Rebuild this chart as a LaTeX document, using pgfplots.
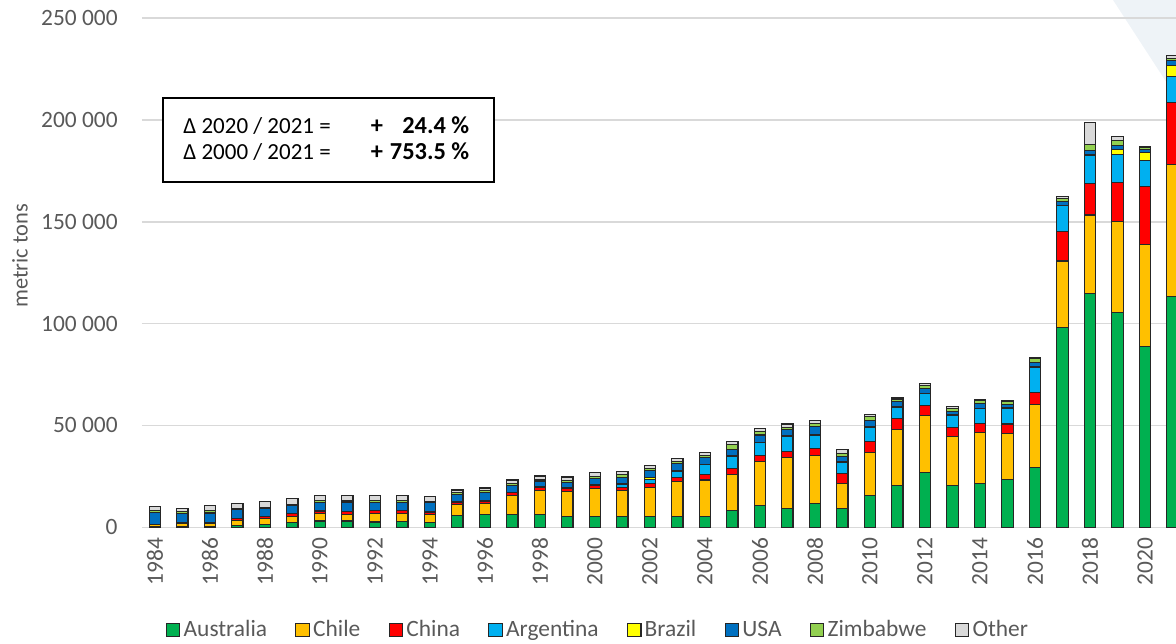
\documentclass[border=0pt]{standalone}
\usepackage{fontspec}
\setmainfont{Carlito}
\usepackage{pgfplots}
\pgfplotsset{compat=1.18}
\usepackage{pgfplotstable}

\definecolor{aus}{HTML}{00B050}
\definecolor{chl}{HTML}{FFC000}
\definecolor{chn}{HTML}{FF0000}
\definecolor{arg}{HTML}{00B0F0}
\definecolor{bra}{HTML}{FFFF00}
\definecolor{usa}{HTML}{0070C0}
\definecolor{zim}{HTML}{92D050}
\definecolor{oth}{HTML}{D9D9D9}
\definecolor{txt}{HTML}{595959}
\definecolor{gridc}{HTML}{D9D9D9}
\definecolor{bgtri}{HTML}{EEF3F7}

\newcommand\tf{\fontsize{11.7}{14}\selectfont}

% lithium mine production, metric tons
\pgfplotstableread{
year aus chl chn arg bra usa zim oth
1984 300 900 0 0 0 6100 1000 1800
1985 200 1900 200 0 0 4600 800 1600
1986 300 1400 700 0 0 4600 1200 2300
1987 1100 2400 800 0 0 4300 500 2800
1988 1500 2900 800 0 0 4100 500 3000
1989 2500 2800 1300 0 0 4100 700 2700
1990 3100 3800 1100 0 0 4300 700 2500
1991 3100 3400 1300 0 0 4400 700 2600
1992 2600 4300 1300 0 0 4100 800 2300
1993 2800 4100 1300 0 0 4100 800 2400
1994 2500 3900 1100 0 0 4600 600 2400
1995 5600 5400 1100 0 300 3600 1000 1300
1996 6100 5700 1000 0 200 3900 1000 1400
1997 6100 9500 1500 0 200 3100 1300 1500
1998 6400 11600 1600 0 200 2600 800 2000
1999 5400 12100 1600 0 200 2600 1100 1700
2000 5100 14100 1500 0 200 3000 1100 1900
2001 5200 12800 1600 1500 200 3200 1300 1500
2002 5400 14200 2000 2000 800 3300 1100 1500
2003 5400 16900 2300 2900 300 3600 1100 1100
2004 5400 17800 2600 4900 300 3100 1300 1300
2005 8200 17800 2800 6200 300 3100 2300 1400
2006 10500 21900 2900 6200 300 3500 1600 1600
2007 9200 25200 2800 7400 300 3000 1300 1500
2008 11500 23900 3400 6500 300 3800 1600 1400
2009 9300 12000 5300 5200 300 2700 1600 1600
2010 15700 21000 5400 7100 300 3000 1900 900
2011 20500 27400 5600 5500 300 2500 1200 500
2012 26700 28400 4900 5600 300 2300 1500 700
2013 20500 24100 4600 5700 300 1700 1500 800
2014 21600 25000 4200 7300 300 2300 1500 400
2015 23600 22300 4800 7700 300 1800 1300 500
2016 29200 31200 5900 12300 300 2100 1700 800
2017 98100 32600 14600 12500 300 1700 1600 1000
2018 114600 38700 15600 13500 600 1800 3300 10700
2019 105300 44900 19000 13700 2700 1700 2400 2200
2020 88700 49900 28700 12800 3900 1600 700 500
2021 113200 65100 30400 12500 5400 2500 1200 1400
}\lith

\pgfplotsset{
  mybar/.style={fill=#1, draw=black!85, line width=0.55pt,
    legend image code/.code={\draw[##1] (0pt,-3.4pt) rectangle (6.8pt,3.4pt);}},
}

\begin{document}
\begin{tikzpicture}
% pale decoration in the top right corner
\fill[bgtri] (485.5pt,263.65pt) -- (517pt,263.65pt) -- (517pt,215.15pt) -- cycle;
\begin{axis}[
  scale only axis,
  width=517pt, height=254.65pt,
  xmin=1983.53, xmax=2021.13,
  ymin=0, ymax=250000,
  ybar stacked, bar width=5.6pt,
  axis line style={draw=none},
  major tick length=0pt,
  ymajorgrids, grid style={gridc, line width=0.8pt},
  xtick={1984,1986,...,2020},
  ytick={0,50000,...,250000},
  scaled y ticks=false,
  /pgf/number format/assume math mode=true,
  every tick label/.append style={font=\tf, text=txt},
  xticklabel style={rotate=90, anchor=east, inner sep=0pt,
    /pgf/number format/fixed, /pgf/number format/1000 sep={}},
  xticklabel shift=5pt,
  yticklabel style={inner sep=0pt,
    /pgf/number format/fixed, /pgf/number format/1000 sep={\ }},
  yticklabel shift=12pt,
  ylabel={metric tons},
  ylabel style={at={(axis description cs:0,0.533)}, anchor=center, yshift=61pt,
    font=\fontsize{11.2}{13}\selectfont, text=txt},
  legend columns=-1,
  legend style={at={(axis description cs:0.4415,0)}, anchor=center, yshift=-51.35pt,
    draw=none, fill=none, font=\tf, text=txt,
    /tikz/every even column/.append style={column sep=12.5pt},
    nodes={inner sep=1.6pt}},
]
\addplot[mybar=aus] table[x=year, y=aus] {\lith};
\addlegendentry{Australia}
\addplot[mybar=chl] table[x=year, y=chl] {\lith};
\addlegendentry{Chile}
\addplot[mybar=chn] table[x=year, y=chn] {\lith};
\addlegendentry{China}
\addplot[mybar=arg] table[x=year, y=arg] {\lith};
\addlegendentry{Argentina}
\addplot[mybar=bra] table[x=year, y=bra] {\lith};
\addlegendentry{Brazil}
\addplot[mybar=usa] table[x=year, y=usa] {\lith};
\addlegendentry{USA}
\addplot[mybar=zim] table[x=year, y=zim] {\lith};
\addlegendentry{Zimbabwe}
\addplot[mybar=oth] table[x=year, y=oth] {\lith};
\addlegendentry{Other}
\end{axis}
% growth box
\draw[black, line width=0.75pt, fill=white] (10.5pt,214.65pt) rectangle (176pt,172.65pt);
\node[anchor=west, inner sep=0pt, font=\fontsize{11.5}{13}\selectfont]
  at (20.5pt,193pt) {%
  \begin{tabular}{@{}l@{\hspace{20pt}}l@{\hspace{3.5pt}}r@{}}
  Δ 2020 / 2021 = & \textbf{\fontsize{12.2}{13}\selectfont +} & \textbf{\fontsize{12.2}{13}\selectfont 24.4 \%}\\
  Δ 2000 / 2021 = & \textbf{\fontsize{12.2}{13}\selectfont +} & \textbf{\fontsize{12.2}{13}\selectfont 753.5 \%}
  \end{tabular}};
\pgfresetboundingbox
\useasboundingbox (-71pt,-57.85pt) rectangle (517pt,263.65pt);
\end{tikzpicture}
\end{document}
